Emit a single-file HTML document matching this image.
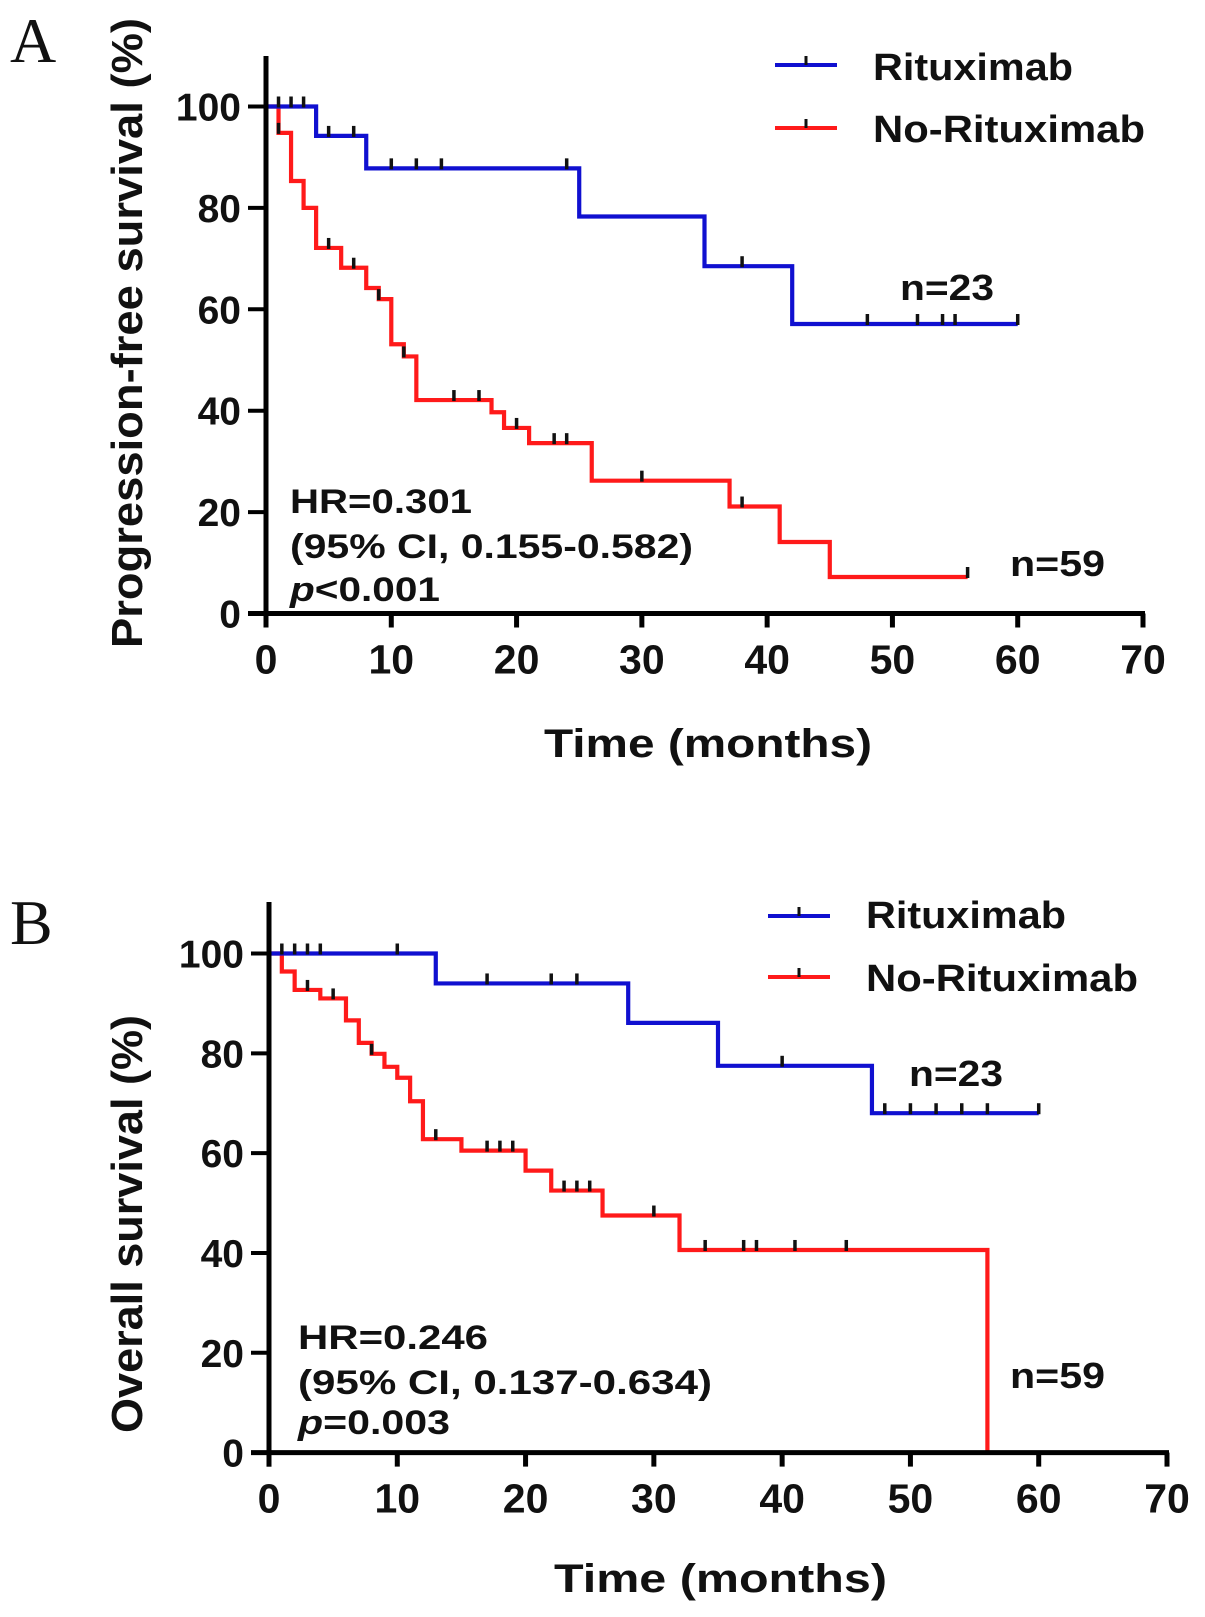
<!DOCTYPE html>
<html><head><meta charset="utf-8"><style>
html,body{margin:0;padding:0;background:#fff;}
svg{display:block;}
text{font-family:"Liberation Sans",Arial,sans-serif;font-weight:bold;fill:#111;}
</style></head><body>
<svg id="chart" width="1205" height="1617" viewBox="0 0 1205 1617" xmlns="http://www.w3.org/2000/svg">
<text x="10" y="62" style="font-family:'Liberation Serif',serif;font-weight:normal;font-size:64px">A</text>
<text x="10" y="944" style="font-family:'Liberation Serif',serif;font-weight:normal;font-size:64px">B</text>
</svg>
<script>
// ---- Panel A data (Progression-free survival) ----
const xTicks = [0,10,20,30,40,50,60,70];
const yTicks = [0,20,40,60,80,100];
const aBlueT = [0,4,8,25,35,42,60];
const aBlueS = [100,94.2,87.8,78.3,68.5,57.1,57.1];
const aBlueC = [1,2,3,5,7,10,12,14,24,38,48,52,54,55,60];
const aRedT = [0,1,2,3,4,6,8,9,10,11,12,18,19,21,26,37,41,45,56];
const aRedS = [100,94.8,85.3,80,72.1,68.2,64.2,62,53.1,50.7,42.1,39.7,36.6,33.6,26.2,21.1,14.1,7.2,7.2];
const aRedC = [1,5,7,9,11,15,17,20,23,24,30,38,56];
// ---- Panel B data (Overall survival) ----
const bBlueT = [0,13,28,35,47,60];
const bBlueS = [100,94,86.1,77.5,68,68];
const bBlueC = [1,2,3,4,10,17,22,24,40,48,50,52,54,56,60];
const bRedT = [0,1,2,4,6,7,8,9,10,11,12,15,20,22,26,32,56];
const bRedS = [100,96.4,92.7,91,86.6,82.1,79.9,77.3,75.1,70.4,62.8,60.5,56.5,52.5,47.5,40.6,0];
const bRedC = [3,5,8,13,17,18,19,23,24,25,30,34,37,38,41,45];

const NS = "http://www.w3.org/2000/svg";
const svg = document.getElementById("chart");
function mk(tag, attrs, parent){
  const e = document.createElementNS(NS, tag);
  for (const k in attrs) e.setAttribute(k, attrs[k]);
  (parent||svg).appendChild(e);
  return e;
}

function panel(cfg){
  const g = mk("g", {});
  
  
  const X = t => cfg.x0 + t*(cfg.x70-cfg.x0)/70;
  const Y = v => cfg.y0 - v*(cfg.y0-cfg.y100)/100;

  function series(T, S, C, color, name){
    let d = "M" + X(T[0]) + "," + Y(S[0]);
    for (let i=1;i<T.length;i++){ d += " H" + X(T[i]) + " V" + Y(S[i]); }
    const p = mk("path", {d:d, fill:"none", stroke:color, "stroke-width":4.2}, g);
    
    
    C.forEach(c => {
      let s = S[0];
      for (let i=0;i<T.length;i++){ if (T[i] <= c) s = S[i]; }
      const m = mk("line", {x1:X(c), x2:X(c), y1:Y(s)+1, y2:Y(s)-10, stroke:"#111", "stroke-width":3.5}, g);
      
      
    });
  }
  series(cfg.redT, cfg.redS, cfg.redC, "#ff1a1a", "no-rituximab");
  series(cfg.blueT, cfg.blueS, cfg.blueC, "#1010d0", "rituximab");

  const ya = mk("line", {x1:cfg.x0, x2:cfg.x0, y1:cfg.ytop, y2:cfg.y0+14, stroke:"#000", "stroke-width":5}, g);
  
  
  const xa = mk("line", {x1:cfg.x0-18, x2:X(70)+2, y1:cfg.y0, y2:cfg.y0, stroke:"#000", "stroke-width":5}, g);
  
  
  xTicks.forEach(t => {
    const tk = mk("line", {x1:X(t), x2:X(t), y1:cfg.y0, y2:cfg.y0+14, stroke:"#000", "stroke-width":5}, g);
    
    
    const lb = mk("text", {x:X(t), y:cfg.y0+60, "text-anchor":"middle", "font-size":41}, g);
    lb.textContent = t;
    
    
  });
  yTicks.forEach(v => {
    const tk = mk("line", {x1:cfg.x0-18, x2:cfg.x0, y1:Y(v), y2:Y(v), stroke:"#000", "stroke-width":4}, g);
    
    
    const lb = mk("text", {x:cfg.x0-25, y:Y(v)+14, "text-anchor":"end", "font-size":39}, g);
    lb.textContent = v;
    
    
  });

  const yt = mk("text", {x:0, y:0, "text-anchor":"middle", "font-size":44, textLength:cfg.ytLen, lengthAdjust:"spacingAndGlyphs",
    transform:"translate(142," + cfg.ytC + ") rotate(-90)"}, g);
  yt.textContent = cfg.ytitle;
  
  
  const xt = mk("text", {x:cfg.xtX, y:cfg.xtY, "font-size":40, textLength:cfg.xtLen, lengthAdjust:"spacingAndGlyphs"}, g);
  xt.textContent = "Time (months)";
  
  

  [["Rituximab","#1010d0",cfg.legY1,cfg.legB1,200],["No-Rituximab","#ff1a1a",cfg.legY2,cfg.legB2,272]].forEach(L => {
    const ln = mk("line", {x1:cfg.legX, x2:cfg.legX+62, y1:L[2], y2:L[2], stroke:L[1], "stroke-width":4}, g);
    
    
    const cm = mk("line", {x1:cfg.legX+31, x2:cfg.legX+31, y1:L[2], y2:L[2]-9, stroke:"#111", "stroke-width":3}, g);
    
    
    const tx = mk("text", {x:cfg.legX+98, y:L[3], "font-size":38, textLength:L[4], lengthAdjust:"spacingAndGlyphs"}, g);
    tx.textContent = L[0];
    
    
  });

  const n1 = mk("text", {x:cfg.n23[0], y:cfg.n23[1], "font-size":36, textLength:94, lengthAdjust:"spacingAndGlyphs"}, g);
  n1.textContent = "n=23";
  
  
  const n2 = mk("text", {x:cfg.n59[0], y:cfg.n59[1], "font-size":36, textLength:95, lengthAdjust:"spacingAndGlyphs"}, g);
  n2.textContent = "n=59";
  
  

  const h1 = mk("text", {x:cfg.hrX, y:cfg.hrB[0], "font-size":34, textLength:cfg.hrLen[0], lengthAdjust:"spacingAndGlyphs"}, g);
  h1.textContent = cfg.hr;
  
  
  const h2 = mk("text", {x:cfg.hrX, y:cfg.hrB[1], "font-size":34, textLength:cfg.hrLen[1], lengthAdjust:"spacingAndGlyphs"}, g);
  h2.textContent = cfg.ci;
  
  
  const h3 = mk("text", {x:cfg.hrX, y:cfg.hrB[2], "font-size":34, textLength:cfg.hrLen[2], lengthAdjust:"spacingAndGlyphs"}, g);
  const ip = mk("tspan", {"font-style":"italic"}, h3);
  ip.textContent = "p";
  const rest = mk("tspan", {}, h3);
  rest.textContent = cfg.p;
  
  
}

panel({id:"panel-a", x0:266, x70:1143, y0:613.5, y100:106.5, ytop:56,
  blueT:aBlueT, blueS:aBlueS, blueC:aBlueC, redT:aRedT, redS:aRedS, redC:aRedC,
  ytitle:"Progression-free survival (%)", ytC:333, ytLen:630,
  xtX:544, xtY:757, xtLen:328,
  legX:775, legY1:65, legY2:128, legB1:80, legB2:142,
  n23:[900,300], n59:[1010,576],
  hrX:290, hrB:[513,558,601], hrLen:[182,403,150],
  hr:"HR=0.301", ci:"(95% CI, 0.155-0.582)", p:"<0.001"});

panel({id:"panel-b", x0:269, x70:1167, y0:1452.6, y100:953.5, ytop:902,
  blueT:bBlueT, blueS:bBlueS, blueC:bBlueC, redT:bRedT, redS:bRedS, redC:bRedC,
  ytitle:"Overall survival (%)", ytC:1224, ytLen:418,
  xtX:554, xtY:1592, xtLen:333,
  legX:768, legY1:916, legY2:977, legB1:928, legB2:991,
  n23:[909,1086], n59:[1010,1388],
  hrX:298, hrB:[1349,1394,1434], hrLen:[190,414,152],
  hr:"HR=0.246", ci:"(95% CI, 0.137-0.634)", p:"=0.003"});
</script>
</body></html>
